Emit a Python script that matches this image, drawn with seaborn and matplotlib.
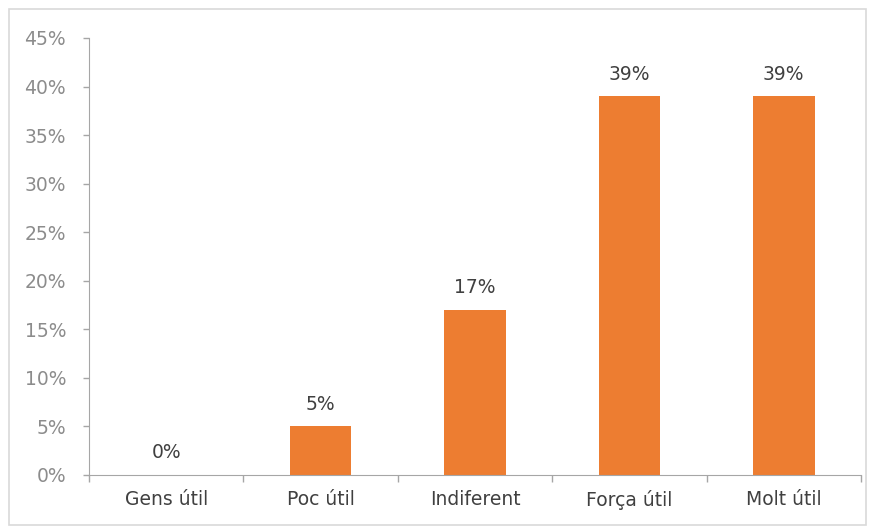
import matplotlib
matplotlib.use("Agg")
import matplotlib.pyplot as plt
import seaborn as sns
import pandas as pd
from matplotlib.patches import Rectangle
from matplotlib.ticker import FuncFormatter, MultipleLocator, FixedLocator

# Dades
categories = ["Gens útil", "Poc útil", "Indiferent", "Força útil", "Molt útil"]
valors = [0.0, 0.05, 0.17, 0.39, 0.39]
etiquetes = ["0%", "5%", "17%", "39%", "39%"]

sns.set_style("white")
plt.rcParams["font.family"] = ["DejaVu Sans"]

df = pd.DataFrame({"categoria": categories, "valor": valors})

fig = plt.figure(figsize=(8.76, 5.29), dpi=100)
W, H = 876, 529
ax = fig.add_axes([89 / W, 1 - 475 / H, (861 - 89) / W, (475 - 38) / H])

sns.barplot(data=df, x="categoria", y="valor", color="#ED7D31", width=0.4,
            saturation=1, edgecolor="none", ax=ax)

ax.set_xlim(-0.5, len(categories) - 0.5)
ax.set_ylim(0, 0.45)
ax.yaxis.set_major_locator(MultipleLocator(0.05))
ax.yaxis.set_major_formatter(FuncFormatter(lambda v, p: f"{v*100:.0f}%"))

mida = 13.5

# etiquetes de valor
for i, (v, t) in enumerate(zip(valors, etiquetes)):
    ax.annotate(t, (i, v), xytext=(0, 16), textcoords="offset points",
                ha="center", va="center", fontsize=mida, color="#404040")

# eixos estil Excel
gris = "#A6A6A6"
for s in ["top", "right"]:
    ax.spines[s].set_visible(False)
ax.spines["left"].set_color(gris)
ax.spines["bottom"].set_color(gris)
ax.set_xlabel("")
ax.set_ylabel("")

ax.tick_params(axis="y", which="major", left=True, length=4.5, width=1,
               color=gris, pad=12, labelsize=mida, labelcolor="#8C8C8C")
ax.tick_params(axis="x", which="major", bottom=True, length=0, pad=11,
               labelsize=mida, labelcolor="#404040")
ax.xaxis.set_minor_locator(FixedLocator([i - 0.5 for i in range(len(categories) + 1)]))
ax.tick_params(axis="x", which="minor", bottom=True, length=5, width=1, color=gris)

# marc del gràfic
fig.patches.append(Rectangle((9 / W, 4 / H), (866 - 9) / W, (520 - 4) / H,
                             transform=fig.transFigure, fill=False,
                             edgecolor="#D9D9D9", linewidth=1.2))

fig.savefig("out.png", dpi=100)
